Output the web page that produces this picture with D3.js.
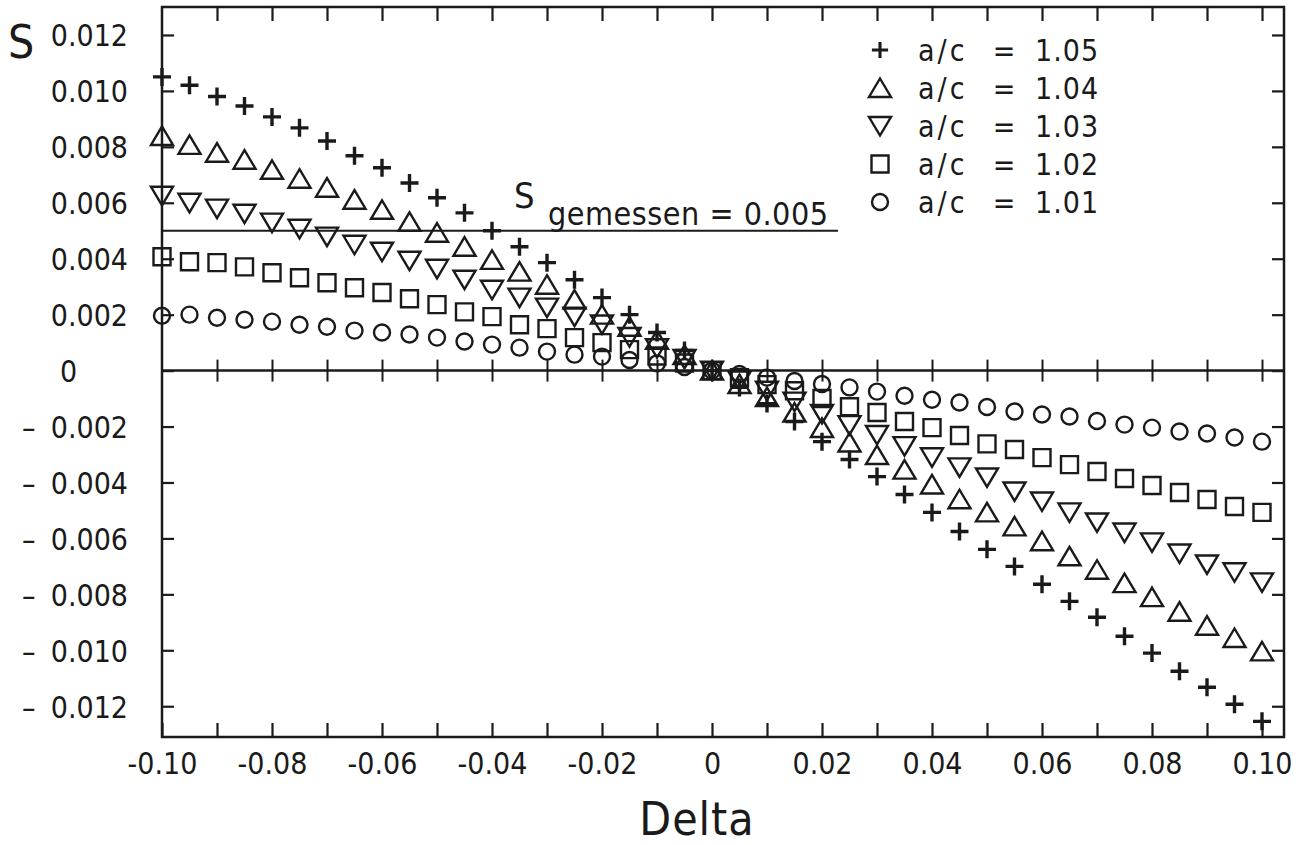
<!DOCTYPE html>
<html>
<head>
<meta charset="utf-8">
<script src="https://cdn.jsdelivr.net/npm/d3@7"></script>
<style>
  body { margin: 0; background: #fff; }
  svg { display: block; }
  .axis path, .axis line { stroke: #1a1a1a; }
  text { font-family: "DejaVu Sans Condensed", "Liberation Sans Narrow", sans-serif; fill: #1a1a1a; }
</style>
</head>
<body>
<script>
// Delta values (x), one per marker column
let deltas = [
  -0.100, -0.095, -0.090, -0.085, -0.080, -0.075, -0.070, -0.065, -0.060, -0.055,
  -0.050, -0.045, -0.040, -0.035, -0.030, -0.025, -0.020, -0.015, -0.010, -0.005,
   0.000,
   0.005,  0.010,  0.015,  0.020,  0.025,  0.030,  0.035,  0.040,  0.045,  0.050,
   0.055,  0.060,  0.065,  0.070,  0.075,  0.080,  0.085,  0.090,  0.095,  0.100
];

// S values, one list per a/c ratio
let s105 = [
  0.0105, 0.0102, 0.0098, 0.00946, 0.00907, 0.00868, 0.00821, 0.00768, 0.00725, 0.00671,
  0.00618, 0.00564, 0.0050, 0.00443, 0.00386, 0.00325, 0.00261, 0.0020, 0.00136, 0.00072,
  0.0,
  -0.0006, -0.00118, -0.00182, -0.00254, -0.00318, -0.00379, -0.00443, -0.00507, -0.00575, -0.00639,
  -0.0070, -0.00764, -0.00825, -0.00882, -0.0095, -0.0101, -0.01075, -0.01132, -0.01193, -0.01254
];
let s104 = [
  0.00839, 0.00807, 0.00779, 0.00754, 0.00718, 0.00686, 0.00654, 0.00611, 0.00575, 0.00532,
  0.00493, 0.00443, 0.00396, 0.00354, 0.00307, 0.00254, 0.0020, 0.00157, 0.0011, 0.00056,
  0.0,
  -0.00048, -0.00095, -0.0015, -0.00205, -0.00257, -0.00302, -0.00354, -0.00407, -0.0046, -0.00507,
  -0.00557, -0.0061, -0.00664, -0.00712, -0.0076, -0.0081, -0.00862, -0.00912, -0.00956, -0.01004
];
let s103 = [
  0.00625, 0.0060, 0.00579, 0.00561, 0.00529, 0.00507, 0.00479, 0.0045, 0.00425, 0.00393,
  0.00364, 0.00325, 0.00289, 0.00261, 0.00225, 0.00193, 0.00165, 0.0012, 0.0008, 0.00042,
  0.0,
  -0.00036, -0.00072, -0.00111, -0.00155, -0.00195, -0.0023, -0.0027, -0.0031, -0.00346, -0.00382,
  -0.00432, -0.00468, -0.00507, -0.00543, -0.00579, -0.00614, -0.00654, -0.00693, -0.00721, -0.00757
];
let s102 = [
  0.00407, 0.00389, 0.00386, 0.00371, 0.0035, 0.00332, 0.00314, 0.00296, 0.00279, 0.00257,
  0.00236, 0.0021, 0.00193, 0.00164, 0.0015, 0.00118, 0.001, 0.00075, 0.00052, 0.00027,
  0.0,
  -0.00025, -0.0005, -0.00072, -0.001, -0.00129, -0.0015, -0.00182, -0.00204, -0.00232, -0.00262,
  -0.00282, -0.00311, -0.00336, -0.00361, -0.00386, -0.00411, -0.00436, -0.00461, -0.00486, -0.00507
];
let s101 = [
  0.00196, 0.0020, 0.00189, 0.00182, 0.00175, 0.00164, 0.00157, 0.00143, 0.00136, 0.00129,
  0.00118, 0.00104, 0.00093, 0.00082, 0.00068, 0.00057, 0.0005, 0.00038, 0.00026, 0.00013,
  0.0,
  -0.00012, -0.00025, -0.00037, -0.00048, -0.0006, -0.00075, -0.0009, -0.00104, -0.00114, -0.0013,
  -0.00146, -0.00157, -0.00164, -0.0018, -0.00193, -0.00204, -0.00218, -0.00225, -0.00239, -0.00254
];

let seriesNames = ["a/c", "a/c", "a/c", "a/c", "a/c"];
let seriesRatios = ["1.05", "1.04", "1.03", "1.02", "1.01"];
let seriesShapes = ["plus", "up", "down", "square", "circle"];

let xTicks = [-0.10, -0.09, -0.08, -0.07, -0.06, -0.05, -0.04, -0.03, -0.02, -0.01,
               0, 0.01, 0.02, 0.03, 0.04, 0.05, 0.06, 0.07, 0.08, 0.09, 0.10];
let xLabels = ["-0.10", "", "-0.08", "", "-0.06", "", "-0.04", "", "-0.02", "",
               "0", "", "0.02", "", "0.04", "", "0.06", "", "0.08", "", "0.10"];
let yTicks = [-0.012, -0.010, -0.008, -0.006, -0.004, -0.002, 0, 0.002, 0.004, 0.006, 0.008, 0.010, 0.012];
let yLabels = ["0.012", "0.010", "0.008", "0.006", "0.004", "0.002", "0", "0.002", "0.004", "0.006", "0.008", "0.010", "0.012"];

let sMeasured = 0.005;

let svgWidth = 1298,
    svgHeight = 845,
    plot = { left: 162, right: 1284, top: 7, bottom: 737 };

let svg = d3.select("body").append("svg")
    .attr("width", svgWidth)
    .attr("height", svgHeight);

let x = d3.scaleLinear().domain([-0.1, 0.1]).range([162, 1262]);
let y = d3.scaleLinear().domain([-0.0131, 0.0130]).range([plot.bottom, plot.top]);

let ink = "#1a1a1a";
let labelSize = 30;

// frame
svg.append("rect")
    .attr("x", plot.left).attr("y", plot.top)
    .attr("width", plot.right - plot.left).attr("height", plot.bottom - plot.top)
    .attr("fill", "none").attr("stroke", ink).attr("stroke-width", 2.5);

// bottom axis with labels, ticks pointing in
let bottomAxis = svg.append("g").attr("class", "axis")
    .attr("transform", "translate(0," + plot.bottom + ")")
    .call(d3.axisBottom(x).tickValues(xTicks)
        .tickSizeInner(-14).tickSizeOuter(0).tickPadding(16)
        .tickFormat((d, i) => xLabels[i]));
bottomAxis.select(".domain").remove();
bottomAxis.selectAll("line").attr("stroke-width", 2.2);
bottomAxis.selectAll("text").attr("font-size", labelSize).attr("fill", ink);

// top axis, ticks only
let topAxis = svg.append("g").attr("class", "axis")
    .attr("transform", "translate(0," + plot.top + ")")
    .call(d3.axisTop(x).tickValues(xTicks.slice(1)).tickSizeInner(-14).tickSizeOuter(0).tickFormat(""));
topAxis.select(".domain").remove();
topAxis.selectAll("line").attr("stroke-width", 2.2);

// zero line with ticks crossing it
[d3.axisBottom, d3.axisTop].forEach(makeAxis => {
    let g = svg.append("g").attr("class", "axis")
        .attr("transform", "translate(0," + y(0) + ")")
        .call(makeAxis(x).tickValues(xTicks.slice(1)).tickSizeInner(11).tickSizeOuter(0).tickFormat(""));
    g.select(".domain").attr("d", "M" + plot.left + ",0H" + plot.right).attr("stroke-width", 2);
    g.selectAll("line").attr("stroke-width", 2);
});

// left axis with labels
let leftAxis = svg.append("g").attr("class", "axis")
    .attr("transform", "translate(" + plot.left + ",0)")
    .call(d3.axisLeft(y).tickValues(yTicks)
        .tickSizeInner(-12).tickSizeOuter(0).tickPadding(34)
        .tickFormat((d, i) => yLabels[i]));
leftAxis.select(".domain").remove();
leftAxis.selectAll("line").attr("stroke-width", 2.2);
leftAxis.selectAll("text").attr("font-size", labelSize).attr("fill", ink).attr("dy", "0.36em");
leftAxis.selectAll(".tick").filter(d => d === 0).select("text")
    .attr("text-anchor", "start").attr("x", 60 - plot.left);
leftAxis.selectAll(".tick").filter(d => d < 0).append("text")
    .attr("x", 22 - plot.left).attr("dy", "0.36em")
    .attr("text-anchor", "start").attr("font-size", labelSize).attr("fill", ink)
    .text("\u2013");

// right axis ticks
let rightAxis = svg.append("g").attr("class", "axis")
    .attr("transform", "translate(" + plot.right + ",0)")
    .call(d3.axisRight(y).tickValues(yTicks).tickSizeInner(-12).tickSizeOuter(0).tickFormat(""));
rightAxis.select(".domain").remove();
rightAxis.selectAll("line").attr("stroke-width", 2.2);

// axis titles
svg.append("text").attr("x", 8).attr("y", 58)
    .attr("font-size", 46).attr("fill", ink).text("S");
svg.append("text").attr("x", 697).attr("y", 835)
    .attr("text-anchor", "middle").attr("font-size", 46).attr("letter-spacing", 1)
    .attr("fill", ink).text("Delta");

// measured S line
svg.append("line")
    .attr("x1", x(-0.1)).attr("x2", x(0.0229))
    .attr("y1", y(sMeasured)).attr("y2", y(sMeasured))
    .attr("stroke", ink).attr("stroke-width", 2);
svg.append("text").attr("x", 514).attr("y", 208)
    .attr("font-size", 36).attr("fill", ink).text("S");
svg.append("text").attr("x", 548).attr("y", 225)
    .attr("font-size", 32).attr("letter-spacing", 0.5).attr("fill", ink).text("gemessen = 0.005");

// marker shapes
function markerPath(shape) {
    switch (shape) {
        case "plus": return "M-9,0H9M0,-9V9";
        case "up": return "M0,-9.5L11,9L-11,9Z";
        case "down": return "M0,9.5L11,-9L-11,-9Z";
        case "square": return "M-8.5,-8.5H8.5V8.5H-8.5Z";
        case "circle": return "M8,0A8,8 0 1,1 -8,0A8,8 0 1,1 8,0Z";
    }
}

let allSeries = [s105, s104, s103, s102, s101];

allSeries.forEach((values, k) => {
    let shape = seriesShapes[k];
    svg.append("g")
        .selectAll("path")
        .data(values.map((v, i) => ({ x: deltas[i], y: v })))
        .join("path")
        .attr("transform", d => "translate(" + x(d.x) + "," + y(d.y) + ")")
        .attr("d", markerPath(shape))
        .attr("fill", "none")
        .attr("stroke", ink)
        .attr("stroke-width", shape === "plus" ? 3.4 : 2.4);
});

// legend
let legendRows = [50, 88, 126, 164, 202];
seriesShapes.forEach((shape, k) => {
    let g = svg.append("g").attr("transform", "translate(880," + legendRows[k] + ")");
    g.append("path")
        .attr("d", markerPath(shape))
        .attr("transform", shape === "plus" ? "scale(0.9)" : null)
        .attr("fill", "none").attr("stroke", ink)
        .attr("stroke-width", shape === "plus" ? 3.4 : 2.4);
    g.append("text").attr("x", 38).attr("dy", "0.36em")
        .attr("font-size", labelSize).attr("letter-spacing", 3).attr("fill", ink).text(seriesNames[k]);
    g.append("text").attr("x", 124).attr("dy", "0.36em")
        .attr("text-anchor", "middle").attr("font-size", labelSize).attr("fill", ink).text("=");
    g.append("text").attr("x", 155).attr("dy", "0.36em")
        .attr("font-size", labelSize).attr("letter-spacing", 1).attr("fill", ink).text(seriesRatios[k]);
});
</script>
</body>
</html>
